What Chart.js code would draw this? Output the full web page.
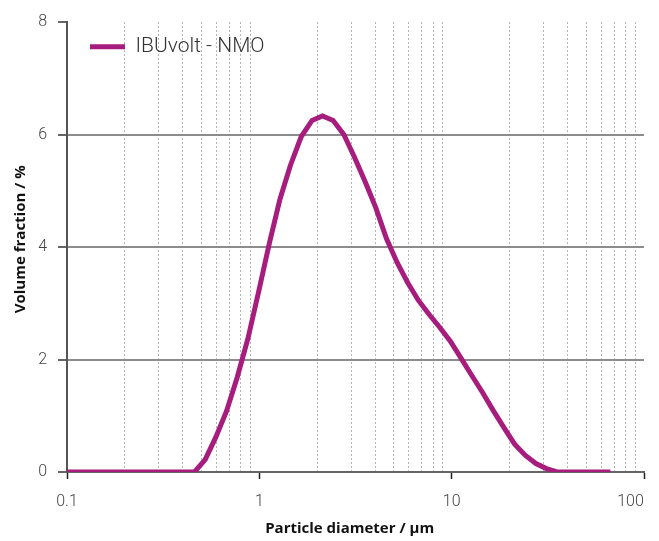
<!DOCTYPE html>
<html>
<head>
<meta charset="utf-8">
<script src="https://cdn.jsdelivr.net/npm/chart.js@4/dist/chart.umd.min.js"></script>
<style>
  body { margin: 0; background: #fff; }
  #wrap { width: 659px; height: 541px; }
</style>
</head>
<body>
<div id="wrap"><canvas id="psdChart"></canvas></div>
<script>
// particle size bins (µm) and volume fraction (%)
const diameters = [0.0995, 0.113, 0.128, 0.146, 0.166, 0.188, 0.214, 0.243, 0.276, 0.314, 0.357, 0.405,
  0.460, 0.523, 0.594, 0.675, 0.767, 0.872, 0.991, 1.13, 1.28, 1.45, 1.65, 1.88, 2.13, 2.42, 2.75,
  3.12, 3.55, 4.03, 4.58, 5.21, 5.92, 6.72, 7.64, 8.68, 9.86, 11.2, 12.7, 14.5, 16.4, 18.7, 21.2,
  24.1, 27.4, 31.1, 35.3, 40.1, 45.6, 51.8, 58.9, 66.9];
const volumeFraction = [0, 0, 0, 0, 0, 0, 0, 0, 0, 0, 0, 0,
  0, 0.22, 0.62, 1.08, 1.68, 2.37, 3.2, 4.08, 4.85, 5.45, 5.96, 6.25, 6.33, 6.25, 6.0,
  5.6, 5.16, 4.7, 4.15, 3.72, 3.36, 3.05, 2.8, 2.57, 2.32, 2.02, 1.72, 1.41, 1.1, 0.79, 0.5,
  0.3, 0.15, 0.06, 0, 0, 0, 0, 0, 0];
const seriesName = 'IBUvolt - NMO';

const decades = [0.1, 1, 10, 100];
const minorSteps = [1, 2, 3, 4, 5, 6, 7, 8, 9];
const yTicks = [0, 2, 4, 6, 8];

const lineColor = '#a61d7d';
const textColor = '#444';
const fontFamily = 'Roboto, "DejaVu Sans", sans-serif';
const titleFamily = '"Open Sans", Roboto, sans-serif';

// tick values for the log axis: 0.1..0.9, 1..9, 10..90, 100
const xTickValues = [];
decades.slice(0, 3).forEach(d => minorSteps.forEach(s => xTickValues.push(+(d * s).toPrecision(3))));
xTickValues.push(100);

function isDecade(v) {
  const l = Math.log10(v);
  return Math.abs(l - Math.round(l)) < 1e-6;
}

// last label sits inside the axis end, padded with figure spaces
function xLabel(value) {
  if (!isDecade(value)) return '';
  if (value >= 100) return String(value) + '\u2007\u2007\u2007';
  return String(value);
}

const points = diameters.map((d, i) => ({ x: d, y: volumeFraction[i] }));

const ctx = document.getElementById('psdChart').getContext('2d');
const psdChart = new Chart(ctx, {
  type: 'line',
  data: {
    datasets: [{
      label: seriesName,
      data: points,
      borderColor: lineColor,
      backgroundColor: lineColor,
      borderWidth: 5,
      pointRadius: 0,
      tension: 0,
      fill: false,
    }],
  },
  options: {
    responsive: true,
    maintainAspectRatio: false,
    animation: false,
    devicePixelRatio: 1,
    layout: { padding: { top: 22, right: 15, left: 0, bottom: 0 } },
    plugins: {
      tooltip: { enabled: false },
      legend: {
        position: 'chartArea',
        align: 'start',
        // empty title only used as top spacing inside the plot
        title: { display: true, text: '', font: { size: 1 }, padding: { top: 12, bottom: 0 } },
        labels: {
          usePointStyle: true,
          pointStyle: 'line',
          pointStyleWidth: 35,
          padding: 23,
          color: '#333',
          font: { family: fontFamily, size: 21, weight: '300' },
        },
      },
    },
    scales: {
      x: {
        type: 'logarithmic',
        min: 0.1,
        max: 100,
        afterFit: scale => {
          scale.height = 69;
          scale.paddingLeft = 0;
          scale.paddingRight = 0;
        },
        afterBuildTicks: scale => {
          scale.ticks = xTickValues.map(v => ({ value: v, major: isDecade(v) }));
        },
        ticks: {
          autoSkip: false,
          maxRotation: 0,
          padding: 13,
          color: textColor,
          font: { family: fontFamily, size: 16, weight: '300' },
          callback: value => xLabel(value),
        },
        grid: {
          color: c => (c.tick && isDecade(c.tick.value)) ? 'rgba(0,0,0,0)' : '#b4b4b4',
          lineWidth: 1,
          tickLength: 7,
          tickWidth: 1.5,
          tickColor: c => (c.tick && isDecade(c.tick.value)) ? '#222' : 'rgba(0,0,0,0)',
        },
        border: { color: '#666', width: 2, dash: [2, 2] },
        title: {
          display: true,
          text: 'Particle diameter / µm   ',
          color: '#111',
          font: { family: titleFamily, size: 15, weight: 'bold' },
          padding: { top: 0, bottom: 3 },
        },
      },
      y: {
        min: 0,
        max: 8,
        afterFit: scale => { scale.width = 67; },
        afterBuildTicks: scale => {
          scale.ticks = yTicks.map(v => ({ value: v }));
        },
        ticks: {
          padding: 11,
          color: textColor,
          font: { family: fontFamily, size: 16, weight: '300' },
        },
        grid: {
          color: c => (c.tick && (c.tick.value === 0 || c.tick.value === 8)) ? 'rgba(0,0,0,0)' : '#8c8c8c',
          lineWidth: 2,
          tickLength: 9,
          tickWidth: 1.5,
          tickColor: '#333',
        },
        border: { color: '#555', width: 2 },
        title: {
          display: true,
          text: '    Volume fraction / %',
          color: '#111',
          font: { family: titleFamily, size: 15, weight: 'bold' },
          padding: { top: 12, bottom: 0 },
        },
      },
    },
  },
});
</script>
</body>
</html>
